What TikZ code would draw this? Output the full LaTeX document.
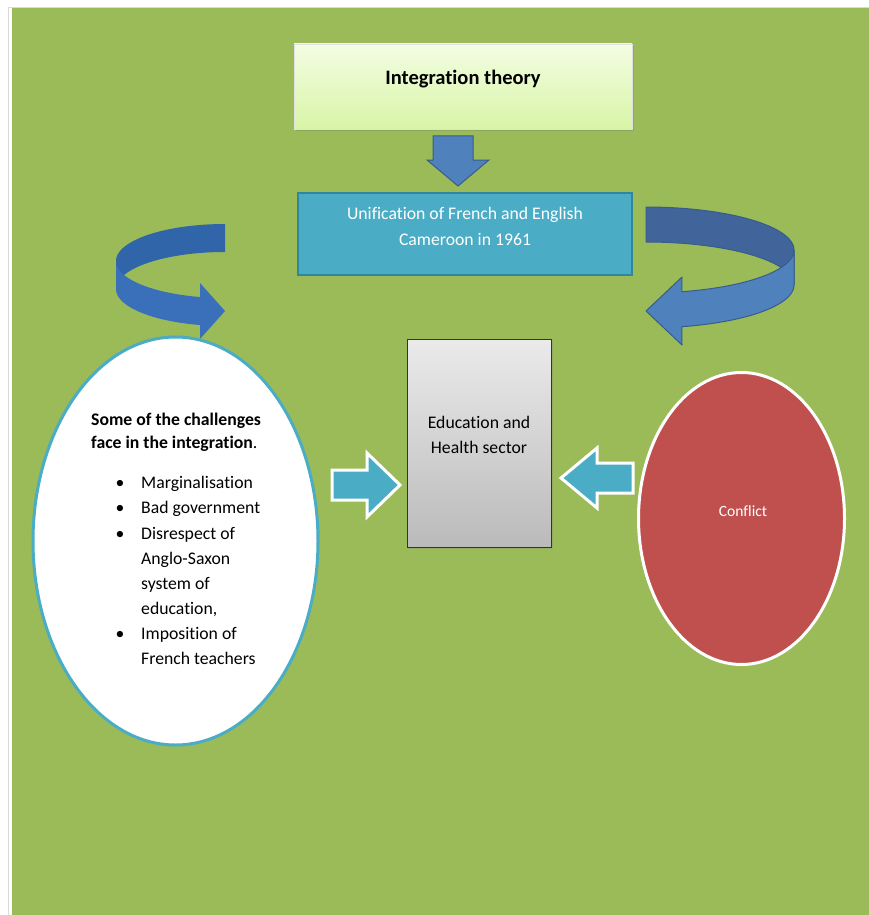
\documentclass[tikz,border=0pt]{standalone}
\usepackage{fontspec}
\setmainfont{Carlito}[Ligatures={NoCommon}]
\usetikzlibrary{shadows}
\definecolor{bg}{HTML}{9BBB59}
\definecolor{aqua}{HTML}{4BACC6}
\definecolor{aquadark}{HTML}{31859C}
\definecolor{blu}{HTML}{4F81BD}
\definecolor{bludark}{HTML}{385D8A}
\definecolor{bluback}{HTML}{41649A}
\definecolor{lblback}{HTML}{3165AA}
\definecolor{lblfront}{HTML}{3A6FBA}
\definecolor{redc}{HTML}{C0504D}
\definecolor{ttop}{HTML}{F3FDE3}
\definecolor{tbot}{HTML}{D8F5A6}
\begin{document}
\begin{tikzpicture}[x=1pt,y=-1pt,
  txt/.style={inner sep=0pt, text height=12.5pt, text depth=3.5pt, font=\fontsize{17.7}{21}\selectfont},
  blockarrow/.style={fill=aqua, draw=white, line width=3pt, line join=miter},
]
\useasboundingbox (0,0) rectangle (869,915);
\fill[white] (0,0) rectangle (869,915);
\fill[bg] (12,8) rectangle (869,915);
\draw[black!15, line width=1pt] (8.5,7) -- (8.5,915);
\draw[black!15, line width=0.8pt] (8,7) -- (869,7);

% title box
\node[draw=black!12, line width=0.6pt, top color=ttop, bottom color=tbot, minimum width=338pt, minimum height=85pt, inner sep=0pt,
  drop shadow={opacity=0.35, shadow xshift=1.5pt, shadow yshift=-2pt}] (theory) at (463,86.5) {};
\node[txt, font=\bfseries\fontsize{20.5}{24}\selectfont] (theoryt) at (463,80) {Integration theory};

% down arrow
\filldraw[fill=blu, draw=bludark, line width=1pt]
  (433,136) -- (473,136) -- (473,160) -- (489,160) -- (458,186) -- (427,160) -- (433,160) -- cycle;

% unification box
\node[draw=aquadark, line width=2.5pt, fill=aqua, minimum width=334pt, minimum height=82pt, inner sep=0pt] (unif) at (465,234) {};
\node[txt, text=white] (unif1) at (465,215) {Unification of French and English};
\node[txt, text=white] (unif2) at (465,241) {Cameroon in 1961};

% left curved arrow: centre (225,261), rx 109, ry 37, h 28
\fill[lblback] plot[domain=90:180, samples=40] ({225+109*cos(\x)},{261-37*sin(\x)})
  -- plot[domain=180:90, samples=40] ({225+109*cos(\x)},{289-37*sin(\x)}) -- cycle;
\fill[lblfront] plot[domain=180:256.8, samples=40] ({225+109*cos(\x)},{261-37*sin(\x)})
  -- (200,283) -- (225,311) -- (200,339)
  -- plot[domain=256.8:180, samples=40] ({225+109*cos(\x)},{289-37*sin(\x)}) -- cycle;

% right curved arrow: centre (646,250), rx 148, ry 43, h 35
\filldraw[fill=bluback, draw=bludark, line width=1pt, line join=round] plot[domain=90:0, samples=40] ({646+148*cos(\x)},{250-43*sin(\x)})
  -- plot[domain=0:90, samples=40] ({646+148*cos(\x)},{285-43*sin(\x)}) -- cycle;
\filldraw[fill=blu, draw=bludark, line width=1pt, line join=round] plot[domain=0:-76, samples=40] ({646+148*cos(\x)},{250-43*sin(\x)})
  -- (682,277) -- (646,311) -- (682,345)
  -- plot[domain=-76:0, samples=40] ({646+148*cos(\x)},{285-43*sin(\x)}) -- cycle;

% education box
\node[draw=black!80, line width=0.8pt, top color=black!8, bottom color=black!27, minimum width=144pt, minimum height=208pt, inner sep=0pt,
  drop shadow={opacity=0.25, shadow xshift=1.5pt, shadow yshift=-1.5pt}] (edu) at (479,443) {};
\node[txt] (edu1) at (479,424) {Education and};
\node[txt] (edu2) at (479,449) {Health sector};

% left ellipse
\draw[fill=white, draw=aqua, line width=3pt] (175.5,541) ellipse [x radius=142.5, y radius=204];
\coordinate (leftell) at (175.5,541);
\node[txt, font=\bfseries\fontsize{17.7}{21}\selectfont, anchor=west] (ch1) at (91,421) {Some of the challenges};
\node[txt, anchor=west] (ch2) at (91,444) {\textbf{face in the integration}.};
\foreach \yy/\t/\b [count=\i] in {484/Marginalisation/1, 509/Bad government/1, 535/Disrespect of/1, 560/Anglo-Saxon/0, 585/system of/0, 610/{education,}/0, 635/Imposition of/1, 660/French teachers/0}{
  \node[txt, anchor=west] (li\i) at (141,\yy) {\t};
  \ifnum\b=1 \node[txt] (bu\i) at (120,\yy) {•}; \fi
}

% right ellipse
\draw[fill=redc, draw=white, line width=3pt] (741.5,518.5) ellipse [x radius=103, y radius=146];
\node[txt, text=white, font=\fontsize{15.6}{18}\selectfont] (conf) at (743,512) {Conflict};

% side block arrows
\draw[blockarrow] (332,470) -- (367,470) -- (367,453) -- (400,485) -- (367,517) -- (367,500) -- (332,500) -- cycle;
\draw[blockarrow] (633,463) -- (597,463) -- (597,448) -- (561,478) -- (597,508) -- (597,493) -- (633,493) -- cycle;
\end{tikzpicture}
\end{document}
